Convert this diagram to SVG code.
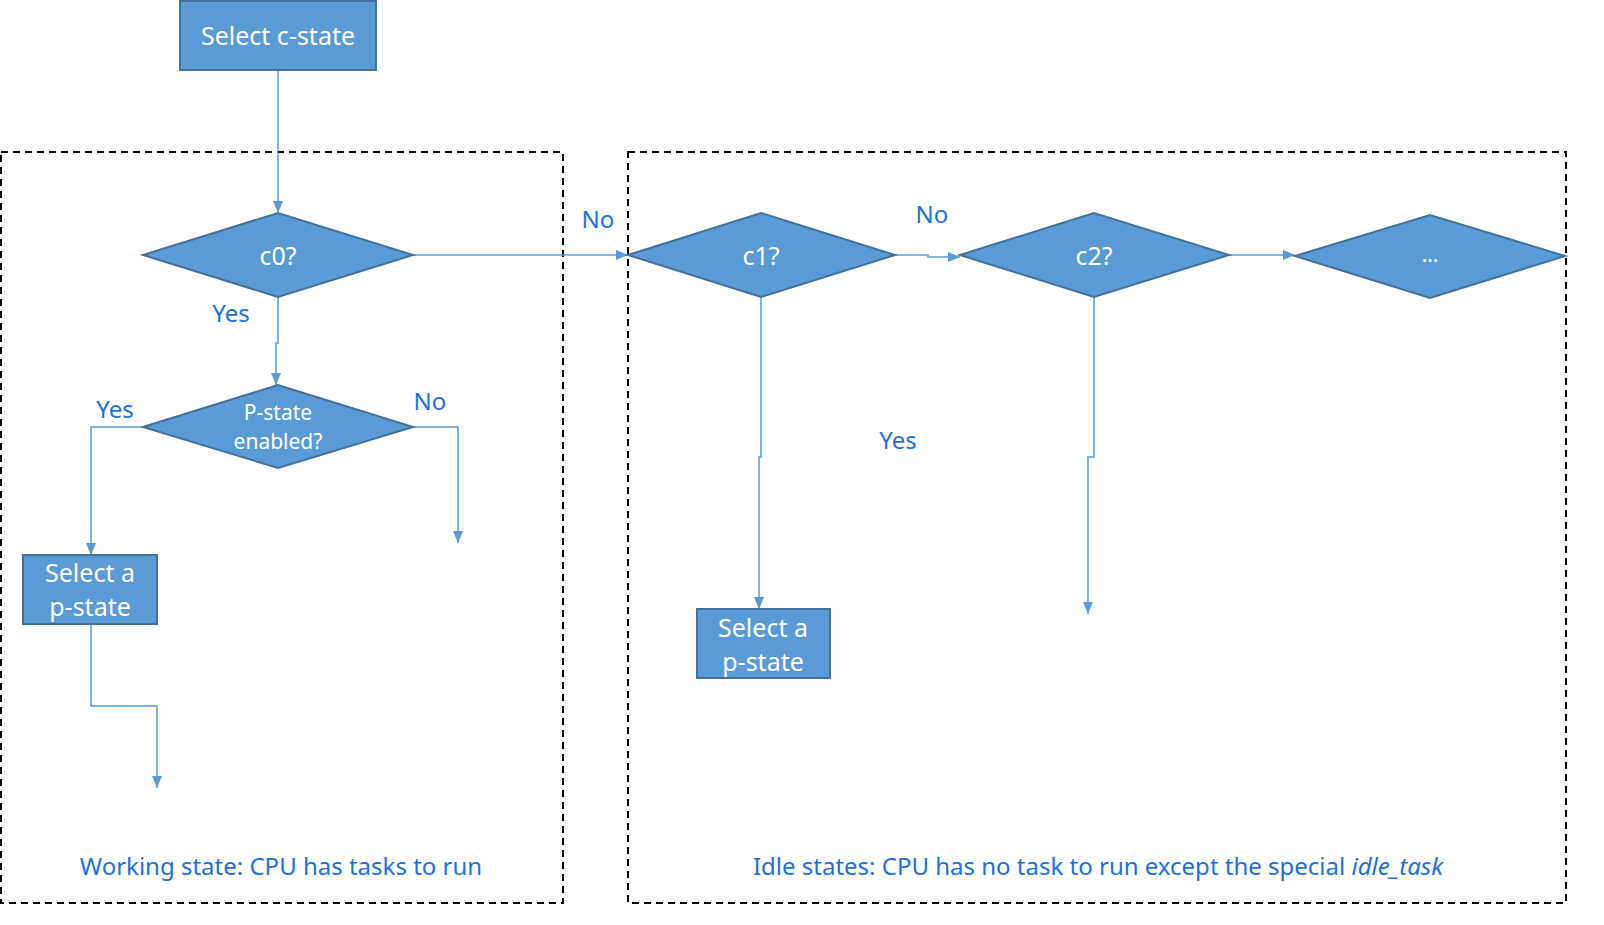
<svg xmlns="http://www.w3.org/2000/svg" width="1604" height="925" viewBox="0 0 1604 925">
<defs>
<style>
.node{fill:#5B9BD5;stroke:#41719C;stroke-width:2}
.nt{fill:#ffffff;font-family:"Noto Sans","Liberation Sans",sans-serif;font-size:25px;text-anchor:middle}
.nts{fill:#ffffff;font-family:"Noto Sans","Liberation Sans",sans-serif;font-size:21px;text-anchor:middle}
.conn{fill:none;stroke:#5B9BD5;stroke-width:1.5;marker-end:url(#ah)}
.lbl{fill:#1F6FDB;font-family:"Noto Sans","Liberation Sans",sans-serif;font-size:24px;text-anchor:middle}
.region{fill:none;stroke:#000000;stroke-width:2;stroke-dasharray:7,5}
</style>
<marker id="ah" viewBox="0 0 12 10" refX="12" refY="5" markerWidth="12" markerHeight="10" markerUnits="userSpaceOnUse" orient="auto">
<path d="M0,0 L12,5 L0,10 z" fill="#5B9BD5"/>
</marker>
</defs>
<rect width="1604" height="925" fill="#ffffff"/>
<g id="regions">
<rect class="region" x="1" y="152" width="562" height="751"/>
<rect class="region" x="628" y="152" width="938" height="751"/>
</g>
<g id="connectors">
<path class="conn" d="M278,70 L278,213"/>
<path class="conn" d="M413,255 L628,255"/>
<path class="conn" d="M278,297 L278,343 L276,343 L276,385"/>
<path class="conn" d="M143,427 L91,427 L91,555"/>
<path class="conn" d="M413,427 L458,427 L458,543"/>
<path class="conn" d="M91,624 L91,706 L157,706 L157,788"/>
<path class="conn" d="M895,255 L928,255 L928,257 L960,257"/>
<path class="conn" d="M1229,255 L1295,255"/>
<path class="conn" d="M761,297 L761,457 L759,457 L759,609"/>
<path class="conn" d="M1094,297 L1094,457 L1088,457 L1088,614"/>
</g>
<g id="n-select-cstate">
<rect class="node" x="180" y="1" width="196" height="69"/>
<text class="nt" x="278" y="45">Select c-state</text>
</g>
<g id="n-c0">
<polygon class="node" points="143,255 278,213 413,255 278,297"/>
<text class="nt" x="278" y="265">c0?</text>
</g>
<g id="n-pstate-enabled">
<polygon class="node" points="143,427 278,385 413,427 278,468"/>
<text class="nts" x="278" y="420">P-state</text>
<text class="nts" x="278" y="449">enabled?</text>
</g>
<g id="n-select-p1">
<rect class="node" x="23" y="555" width="134" height="69"/>
<text class="nt" x="90" y="582">Select a</text>
<text class="nt" x="90" y="616">p-state</text>
</g>
<g id="n-c1">
<polygon class="node" points="628,255 761,213 895,255 761,297"/>
<text class="nt" x="761" y="265">c1?</text>
</g>
<g id="n-c2">
<polygon class="node" points="960,255 1094,213 1229,255 1094,297"/>
<text class="nt" x="1094" y="265">c2?</text>
</g>
<g id="n-more">
<polygon class="node" points="1295,256 1430,215 1565,256 1430,298"/>
<text class="nts" x="1430" y="262">…</text>
</g>
<g id="n-select-p2">
<rect class="node" x="697" y="609" width="133" height="69"/>
<text class="nt" x="763" y="637">Select a</text>
<text class="nt" x="763" y="671">p-state</text>
</g>
<g id="labels">
<text class="lbl" x="598" y="228">No</text>
<text class="lbl" x="231" y="322">Yes</text>
<text class="lbl" x="115" y="418">Yes</text>
<text class="lbl" x="430" y="410">No</text>
<text class="lbl" x="932" y="223">No</text>
<text class="lbl" x="898" y="449">Yes</text>
<text class="lbl" x="281" y="875">Working state: CPU has tasks to run</text>
<text class="lbl" x="1098" y="875">Idle states: CPU has no task to run except the special <tspan font-style="italic">idle_task</tspan></text>
</g>
</svg>
